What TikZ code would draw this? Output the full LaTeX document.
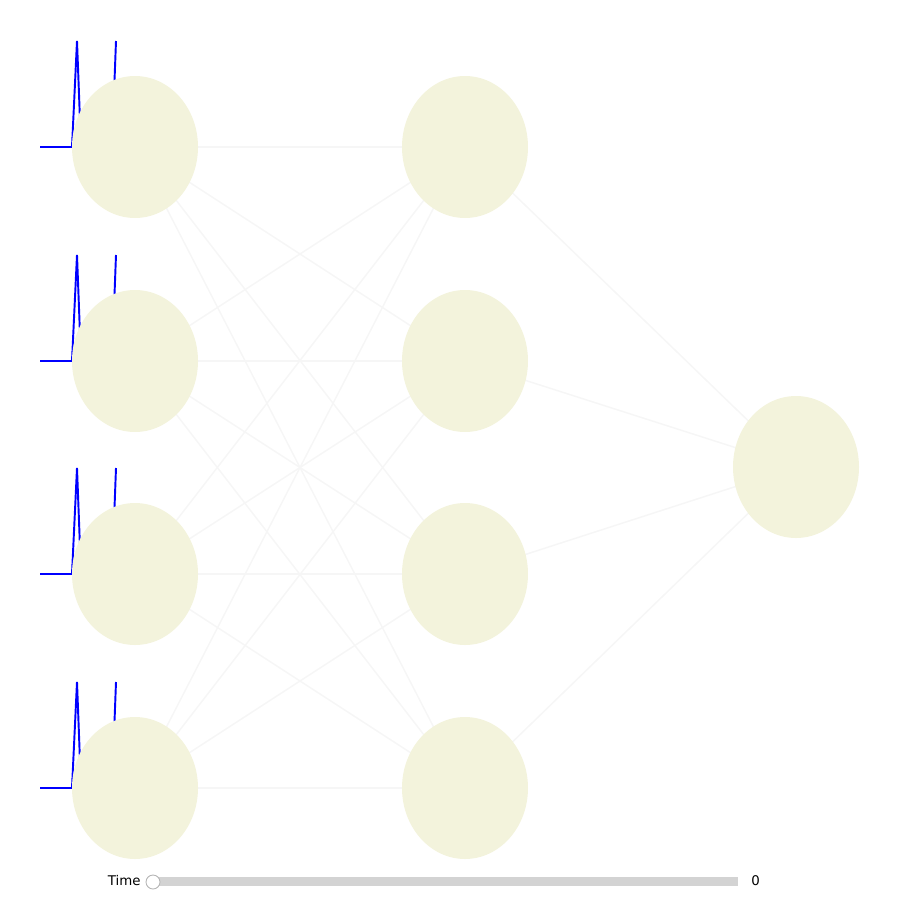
\documentclass[tikz,border=0pt]{standalone}
\usepackage{fontspec}
\setmainfont{DejaVu Sans}
\definecolor{nodefill}{RGB}{243,243,220}
\definecolor{edgegray}{RGB}{246,246,246}
\definecolor{trackgray}{RGB}{211,211,211}
\definecolor{knobgray}{RGB}{180,180,180}
\tikzset{
  neuron/.style={ellipse, fill=nodefill, minimum width=126*0.02cm, minimum height=142*0.02cm, inner sep=0pt},
  link/.style={draw=edgegray, line width=0.85pt},
  spikes/.style={draw=blue, line width=1.1pt, line join=miter},
  lbl/.style={font=\fontsize{7.6pt}{9pt}\selectfont, inner sep=0pt}
}
\usetikzlibrary{shapes.geometric}
\begin{document}
\begin{tikzpicture}[x=0.02cm,y=-0.02cm]
\useasboundingbox (0,0) rectangle (900,900);
% spike traces
\foreach \yy/\n in {147/1,361/2,574/3,788/4}{
  \draw[spikes] (40,\yy) -- (72,\yy) -- (77,\yy-106) -- (81,\yy) -- (112,\yy) -- (116,\yy-106);
}
% node positions
\coordinate (i1) at (135,147);
\coordinate (i2) at (135,361);
\coordinate (i3) at (135,574);
\coordinate (i4) at (135,788);
\coordinate (h1) at (465,147);
\coordinate (h2) at (465,361);
\coordinate (h3) at (465,574);
\coordinate (h4) at (465,788);
\coordinate (o1) at (796,467);
% connections
\foreach \a in {1,2,3,4}{
  \foreach \b in {1,2,3,4}{
    \draw[link] (i\a) -- (h\b);
  }
  \draw[link] (h\a) -- (o1);
}
% neurons
\foreach \a in {1,2,3,4}{
  \node[neuron] (I\a) at (i\a) {};
  \node[neuron] (H\a) at (h\a) {};
}
\node[neuron] (O1) at (o1) {};
% slider
\fill[trackgray] (153,877) rectangle (738,886);
\node[lbl, anchor=east] (timelbl) at (141,881) {Time};
\node[circle, draw=knobgray, fill=white, line width=0.5pt, minimum size=14*0.02cm, inner sep=0pt] (knob) at (153,882) {};
\node[lbl, anchor=west] (val) at (751,881) {0};
\end{tikzpicture}
\end{document}
